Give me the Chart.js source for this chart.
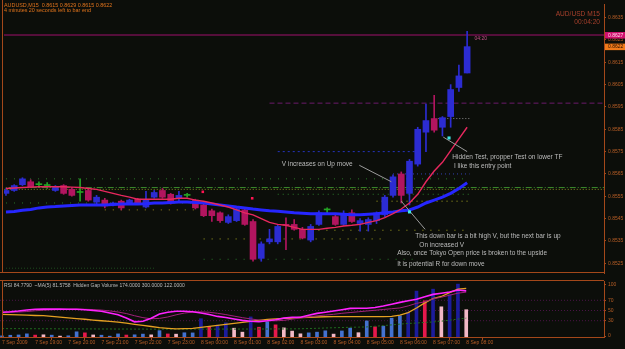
<!DOCTYPE html>
<html>
<head>
<meta charset="utf-8">
<title>AUDUSD M15</title>
<script src="https://cdn.jsdelivr.net/npm/chart.js@4.4.1/dist/chart.umd.min.js"></script>
<style>
  html, body { margin: 0; padding: 0; background: #0c0e0a; }
  #wrap { position: relative; width: 625px; height: 349px; overflow: hidden; background: #0c0e0a; }
  #mainChart { position: absolute; left: 0; top: 0; }
  #subChart { position: absolute; left: 0; top: 277px; }
</style>
</head>
<body>
<div id="wrap">
  <canvas id="mainChart" width="625" height="277"></canvas>
  <canvas id="subChart" width="625" height="72"></canvas>
</div>
<script>
// AUDUSD M15 - price window + RSI / hidden gap volume window

// ---- data ----
const dateTickBars = [0, 4, 8, 12, 16, 20, 24, 28, 32, 36, 40, 44, 48, 52, 56];
const dateLabels = ['7 Sep 2009', '7 Sep 19:00', '7 Sep 20:00', '7 Sep 21:00', '7 Sep 22:00',
  '7 Sep 23:00', '8 Sep 00:00', '8 Sep 01:00', '8 Sep 02:00', '8 Sep 03:00', '8 Sep 04:00',
  '8 Sep 05:00', '8 Sep 06:00', '8 Sep 07:00', '8 Sep 08:00'];
const priceTicks = [0.8525, 0.8535, 0.8545, 0.8555, 0.8565, 0.8575, 0.8585, 0.8595,
  0.8605, 0.8615, 0.8625, 0.8635];
const rsiTicks = [0, 30, 50, 70, 100];
const rsiLevels = [70, 50, 30];

const opens = [0.85563, 0.85576, 0.85602, 0.85615, 0.85602, 0.85598, 0.85576, 0.85598, 0.85581, 0.85567,
  0.85576, 0.85524, 0.85533, 0.85511, 0.85528, 0.85520, 0.85537, 0.85502, 0.85546, 0.85576,
  0.85559, 0.85541, 0.85554, 0.85533, 0.85511, 0.85485, 0.85476, 0.85433, 0.85441, 0.85489,
  0.85437, 0.85272, 0.85346, 0.85346, 0.85424, 0.85424, 0.85402, 0.85354, 0.85424, 0.85489,
  0.85459, 0.85424, 0.85476, 0.85428, 0.85424, 0.85441, 0.85467, 0.85554, 0.85650, 0.85563,
  0.85694, 0.85837, 0.85898, 0.85859, 0.85907, 0.86037, 0.86102];
const highs = [0.85585, 0.85602, 0.85633, 0.85624, 0.85615, 0.85611, 0.85598, 0.85602, 0.85589, 0.85628,
  0.85581, 0.85554, 0.85541, 0.85524, 0.85533, 0.85537, 0.85541, 0.85572, 0.85576, 0.85585,
  0.85563, 0.85572, 0.85563, 0.85537, 0.85520, 0.85493, 0.85480, 0.85467, 0.85502, 0.85498,
  0.85446, 0.85346, 0.85402, 0.85424, 0.85454, 0.85446, 0.85411, 0.85424, 0.85485, 0.85498,
  0.85467, 0.85485, 0.85489, 0.85450, 0.85454, 0.85480, 0.85554, 0.85646, 0.85659, 0.85715,
  0.85859, 0.85963, 0.86002, 0.85907, 0.86050, 0.86137, 0.86289];
const lows = [0.85554, 0.85572, 0.85598, 0.85589, 0.85589, 0.85585, 0.85572, 0.85559, 0.85550, 0.85528,
  0.85528, 0.85515, 0.85498, 0.85507, 0.85489, 0.85515, 0.85515, 0.85498, 0.85541, 0.85541,
  0.85515, 0.85528, 0.85546, 0.85493, 0.85459, 0.85437, 0.85433, 0.85428, 0.85437, 0.85420,
  0.85259, 0.85259, 0.85337, 0.85337, 0.85311, 0.85398, 0.85359, 0.85346, 0.85420, 0.85476,
  0.85420, 0.85420, 0.85433, 0.85394, 0.85394, 0.85428, 0.85459, 0.85546, 0.85520, 0.85511,
  0.85685, 0.85750, 0.85837, 0.85820, 0.85859, 0.86020, 0.86102];
const closes = [0.85576, 0.85598, 0.85628, 0.85593, 0.85602, 0.85598, 0.85589, 0.85563, 0.85554, 0.85567,
  0.85533, 0.85546, 0.85507, 0.85520, 0.85498, 0.85533, 0.85520, 0.85533, 0.85567, 0.85546,
  0.85520, 0.85554, 0.85554, 0.85498, 0.85463, 0.85463, 0.85441, 0.85459, 0.85493, 0.85424,
  0.85268, 0.85337, 0.85359, 0.85415, 0.85420, 0.85402, 0.85363, 0.85415, 0.85476, 0.85489,
  0.85424, 0.85472, 0.85437, 0.85441, 0.85446, 0.85476, 0.85546, 0.85637, 0.85554, 0.85707,
  0.85850, 0.85889, 0.85846, 0.85902, 0.86028, 0.86089, 0.86220];

// moving averages drawn on price
const maFast = [0.85585, 0.85587, 0.85589, 0.85591, 0.85593, 0.85593, 0.85593, 0.85593, 0.85591, 0.85589,
  0.85585, 0.85581, 0.85572, 0.85563, 0.85554, 0.85546, 0.85537, 0.85537, 0.85537, 0.85537,
  0.85537, 0.85541, 0.85541, 0.85533, 0.85528, 0.85520, 0.85511, 0.85502, 0.85489, 0.85476,
  0.85467, 0.85450, 0.85433, 0.85424, 0.85420, 0.85411, 0.85402, 0.85402, 0.85402, 0.85407,
  0.85411, 0.85417, 0.85420, 0.85424, 0.85433, 0.85441, 0.85454, 0.85472, 0.85493, 0.85520,
  0.85559, 0.85615, 0.85663, 0.85702, 0.85754, 0.85807, 0.85859];
const maSlow = [0.85480, 0.85482, 0.85487, 0.85491, 0.85498, 0.85502, 0.85504, 0.85507, 0.85509, 0.85511,
  0.85511, 0.85511, 0.85511, 0.85513, 0.85515, 0.85515, 0.85515, 0.85517, 0.85520, 0.85520,
  0.85522, 0.85524, 0.85524, 0.85522, 0.85520, 0.85515, 0.85511, 0.85507, 0.85502, 0.85498,
  0.85493, 0.85489, 0.85485, 0.85483, 0.85480, 0.85476, 0.85474, 0.85472, 0.85472, 0.85472,
  0.85472, 0.85470, 0.85467, 0.85467, 0.85470, 0.85472, 0.85476, 0.85480, 0.85485, 0.85489,
  0.85502, 0.85520, 0.85533, 0.85546, 0.85563, 0.85585, 0.85611];

// support / resistance levels: price, first bar, last bar
const levelPrices = [0.86272, 0.85967, 0.85750, 0.85898, 0.85650, 0.85628, 0.85589, 0.85581,
  0.85559, 0.85528, 0.85520, 0.85489, 0.85398, 0.85359, 0.85268, 0.85228];
const levelFrom = [-1, 32, 33, 52.5, 47, 0, -1, -1, 33, 45, 0, 12, 36, 24, 24, 0];
const levelTo = [74, 74, 50, 56.3, 56.3, 56.3, 74, 74, 56.3, 56.3, 24, 24, 56.3, 46, 50, 18];

// pointer lines from notes to bars: [bar, price] -> [bar, price]
const pointerStart = [[42.9, 0.85689], [53.1, 0.85815], [48.0, 0.85528]];
const pointerEnd = [[46.8, 0.85615], [56.0, 0.85750], [50.9, 0.85402]];
const testMarks = [[53.8, 0.85811], [49.0, 0.85480]];
const signalMarks = [[23.9, 0.85570], [29.9, 0.85541]];

const noteTexts = ['V increases on Up move', 'Hidden Test, propper Test on lower TF',
  'I like this entry point', 'This down bar is a bit high V, but the next bar is up',
  'On increased V', 'Also, once Tokyo Open price is broken to the upside',
  'It is potential R for down move'];
const noteBars = [33.5, 54.2, 54.4, 49.7, 50.2, 47.5, 47.5];
const notePrices = [0.85694, 0.85724, 0.85685, 0.85372, 0.85333, 0.85294, 0.85246];

// indicator window
const rsiValues = [46.7, 47.6, 49, 51, 52.5, 52.7, 52.9, 52.7, 52.5, 52.4,
  51.6, 50, 48.4, 45, 41.8, 35.3, 27.8, 29, 35, 43,
  46.7, 48.6, 48.6, 47.6, 45, 42, 38.4, 36.3, 33.3, 30.6,
  28.8, 28, 29.8, 32, 35, 36.7, 36.9, 40.6, 44.3, 46.7,
  49, 51.6, 54.1, 54.3, 54.3, 55.9, 58.8, 62.4, 65.9, 69.2,
  72.2, 76.9, 81.6, 83.9, 86.3, 90.2, 88.5];
const rsiMaValues = [46, 46.5, 47, 48, 49.5, 50.5, 51.5, 52, 52.5, 52.6,
  52.4, 51.8, 50.8, 49.2, 47, 44, 39.7, 36, 33.8, 34.5,
  37.3, 41.5, 45, 47, 47.3, 46.5, 44.5, 42, 39, 36,
  33.5, 31.3, 30, 29.8, 30.7, 33, 35.5, 37.5, 39.5, 41,
  42.5, 44.5, 46, 47.5, 49, 50.5, 52, 53.5, 55, 59,
  64, 67, 73, 76, 80, 84, 86];
const gapVolLine = [42.3, 41.8, 41.3, 40.8, 40.2, 39.8, 38.5, 37, 35.6, 34.2,
  32.8, 31.3, 29.9, 28.6, 27.2, 25.2, 23, 20.8, 18.6, 16.3,
  15, 13.8, 14.3, 15.1, 16.8, 18.7, 20.7, 22.9, 24.7, 26.8,
  28.8, 30.8, 32.7, 33.5, 34.4, 35.3, 36.3, 36.8, 37.3, 37.7,
  37.8, 37.8, 37.8, 37.8, 37.8, 37.8, 37.8, 38.5, 41, 46,
  55, 65, 73.5, 77.5, 85, 92, 93.5];
const gapVolSignal = [14.6, 14.4, 14.5, 14.2, 14.3, 14.1, 14.2, 14, 13.9, 14.1,
  13.8, 13.9, 13.7, 13.8, 13.6, 13.7, 13.5, 13.6, 13.4, 13.5,
  13.4, 13.5, 13.3, 13.5, 13.6, 13.4, 13.5, 13.6, 13.5, 13.7,
  13.6, 13.8, 13.7, 13.9, 13.8, 14, 14.2, 14.6, 15.1, 15.7,
  16.2, 16.6, 17.1, 17.4, 17.8, 19, 20.4, 21.8, 23.3, 24.6,
  25.4, 26.6, 27.5, 29.1, 31, 33.2, 35];
const gapVolume = [22, 35, 41, 63, 38, 44, 37, 18, 24, 104,
  83, 41, 36, 17, 62, 39, 44, 58, 43, 127,
  61, 57, 85, 82, 366, 204, 238, 283, 176, 97,
  402, 196, 305, 243, 182, 118, 64, 83, 97, 124,
  58, 121, 178, 86, 322, 203, 218, 376, 424, 497,
  918, 724, 957, 604, 846, 1058, 546];
// b = normal up, n = high up, r = high down, p = low down
const gapVolumeKind = ['b', 'b', 'b', 'b', 'r', 'p', 'b', 'p', 'b', 'b',
  'r', 'p', 'b', 'b', 'b', 'r', 'b', 'b', 'p', 'b',
  'r', 'p', 'b', 'b', 'n', 'r', 'n', 'n', 'p', 'p',
  'n', 'r', 'b', 'r', 'p', 'p', 'p', 'b', 'b', 'b',
  'p', 'b', 'b', 'p', 'b', 'r', 'b', 'b', 'b', 'n',
  'n', 'r', 'n', 'p', 'n', 'n', 'p'];

const headerLine1 = 'AUDUSD,M15  0.8615 0.8629 0.8615 0.8622';
const headerLine2 = '4 minutes 20 seconds left to bar end';
const subHeader = 'RSI 84.7790  ~MA(5) 81.5758  Hidden Gap Volume 174.0000 300.0000 122.0000';

// ---- styles ----
const FONT = '"Liberation Sans", Arial, sans-serif';
const BG = '#0c0e0a';
const AXIS = '#a4481a';
const AXIS_TEXT = '#b85e26';
const UP = '#2c2cd2';
const DOWN = '#b2155f';
const DOJI = '#24a424';
const VOL_COLORS = { b: '#4472d0', n: '#1c1c9c', r: '#e8184c', p: '#f2b8c6' };
const levelStyles = [
  { color: '#a0106c', dash: [] },
  { color: '#6a1a6a', dash: [5, 3] },
  { color: '#2434c0', dash: [2, 3] },
  { color: '#8a8a8a', dash: [1, 2] },
  { color: '#3444b4', dash: [1, 3] },
  { color: '#2a7a2a', dash: [1, 7] },
  { color: '#3c8c2c', dash: [6, 2, 1, 2] },
  { color: '#8c8c22', dash: [1, 2] },
  { color: '#2a7a2a', dash: [1, 4] },
  { color: '#a4a422', dash: [1, 4] },
  { color: '#2a7a2a', dash: [1, 7] },
  { color: '#9c8a22', dash: [1, 7] },
  { color: '#a4a422', dash: [1, 7] },
  { color: '#a4a422', dash: [1, 7] },
  { color: '#2a7a2a', dash: [1, 7] },
  { color: '#1e4e1e', dash: [1, 2] }
];

// x range: bar spacing ~8.29px, bar 0 sits at the left frame
const xMin = -0.24;
const xMax = 72.62;
const priceMin = 0.852065;
const priceMax = 0.864109;

const bars = opens.map((_, i) => i);
const candleColor = i => closes[i] > opens[i] ? UP : (closes[i] < opens[i] ? DOWN : DOJI);
const toPoints = vals => vals.map((v, i) => ({ x: i, y: v }));

// ---- price window ----
const mainDatasets = [];

levelPrices.forEach((p, i) => {
  mainDatasets.push({
    type: 'line',
    data: [{ x: levelFrom[i], y: p }, { x: levelTo[i], y: p }],
    borderColor: levelStyles[i].color,
    borderDash: levelStyles[i].dash,
    borderWidth: 1,
    pointRadius: 0,
    order: 20
  });
});

mainDatasets.push({
  type: 'bar',
  data: bars.map(i => ({ x: i, y: [lows[i], highs[i]] })),
  backgroundColor: bars.map(candleColor),
  barThickness: 1,
  grouped: false,
  order: 12
});
mainDatasets.push({
  type: 'bar',
  data: bars.map(i => ({ x: i, y: [opens[i], closes[i]] })),
  backgroundColor: bars.map(candleColor),
  barThickness: 6,
  minBarLength: 1,
  grouped: false,
  order: 11
});
mainDatasets.push({
  type: 'line', data: toPoints(maSlow), borderColor: '#2626ff', borderWidth: 3,
  pointRadius: 0, order: 6
});
mainDatasets.push({
  type: 'line', data: toPoints(maFast), borderColor: '#e8285e', borderWidth: 1.4,
  pointRadius: 0, order: 5
});
pointerStart.forEach((s, i) => {
  mainDatasets.push({
    type: 'line',
    data: [{ x: s[0], y: s[1] }, { x: pointerEnd[i][0], y: pointerEnd[i][1] }],
    borderColor: '#9a9a9a', borderWidth: 1, pointRadius: 0, order: 3
  });
});
mainDatasets.push({
  type: 'line', data: testMarks.map(m => ({ x: m[0], y: m[1] })), showLine: false,
  pointStyle: 'rect', pointRadius: 2.2, backgroundColor: '#3ee6e6', borderWidth: 0, order: 2
});
mainDatasets.push({
  type: 'line', data: signalMarks.map(m => ({ x: m[0], y: m[1] })), showLine: false,
  pointStyle: 'rect', pointRadius: 1.8, backgroundColor: '#ff1452', borderWidth: 0, order: 2
});

const mainDecor = {
  id: 'mainDecor',
  beforeDraw(chart) {
    const { ctx, width, height } = chart;
    ctx.save();
    ctx.fillStyle = BG;
    ctx.fillRect(0, 0, width, height);
    ctx.restore();
  },
  afterDraw(chart) {
    const { ctx, chartArea: a, scales: { x, y } } = chart;
    ctx.save();

    // frame
    ctx.strokeStyle = AXIS;
    ctx.lineWidth = 1;
    ctx.beginPath();
    ctx.moveTo(2.5, 0);
    ctx.lineTo(2.5, a.bottom);
    ctx.moveTo(0, a.bottom - 0.5);
    ctx.lineTo(a.right, a.bottom - 0.5);
    ctx.stroke();

    // header
    ctx.fillStyle = '#e0731c';
    ctx.font = '5.4px ' + FONT;
    ctx.textBaseline = 'middle';
    ctx.textAlign = 'left';
    ctx.fillText(headerLine1, 4, 5.5);
    ctx.fillText(headerLine2, 4, 10.2);

    ctx.fillStyle = '#a8402c';
    ctx.font = '6.6px ' + FONT;
    ctx.textAlign = 'right';
    ctx.fillText('AUD/USD M15', 600, 14.5);
    ctx.fillText('00:04:20', 600, 22);

    // notes
    ctx.fillStyle = '#bcbcbc';
    ctx.font = '6.5px ' + FONT;
    ctx.textAlign = 'left';
    noteTexts.forEach((t, i) => {
      ctx.fillText(t, x.getPixelForValue(noteBars[i]), y.getPixelForValue(notePrices[i]));
    });

    // level time tag
    const lvY = y.getPixelForValue(levelPrices[0]);
    ctx.fillStyle = '#c8508a';
    ctx.font = '5px ' + FONT;
    ctx.fillText('04:20', x.getPixelForValue(56.9), lvY + 3.5);

    // price tags on the axis
    const tag = (price, bg, fg) => {
      const py = y.getPixelForValue(price);
      ctx.fillStyle = bg;
      ctx.fillRect(a.right + 1, py - 3, 625 - a.right - 1, 6.5);
      ctx.fillStyle = fg;
      ctx.font = '5px ' + FONT;
      ctx.textAlign = 'left';
      ctx.fillText(price.toFixed(4), a.right + 4, py + 0.3);
    };
    tag(levelPrices[0], '#d0106e', '#ffd8e8');
    tag(closes[closes.length - 1], '#f07a1a', '#2a1000');

    ctx.restore();
  }
};

new Chart(document.getElementById('mainChart'), {
  type: 'bar',
  data: { datasets: mainDatasets },
  options: {
    responsive: false,
    animation: false,
    events: [],
    devicePixelRatio: 1,
    layout: { padding: 0 },
    plugins: { legend: { display: false }, tooltip: { enabled: false } },
    scales: {
      x: { type: 'linear', display: false, min: xMin, max: xMax, offset: false },
      y: {
        type: 'linear',
        position: 'right',
        min: priceMin,
        max: priceMax,
        bounds: 'data',
        afterBuildTicks: s => { s.ticks = priceTicks.map(v => ({ value: v })); },
        afterFit: s => { s.width = 21; s.paddingTop = 0; s.paddingBottom = 0; },
        ticks: {
          callback: v => v.toFixed(4),
          color: AXIS_TEXT,
          font: { family: FONT, size: 5 },
          padding: 2,
          autoSkip: false
        },
        grid: { drawOnChartArea: false, tickLength: 2, color: AXIS },
        border: { color: AXIS }
      }
    }
  },
  plugins: [mainDecor]
});

// ---- indicator window ----
const subDatasets = [];
rsiLevels.forEach(lv => {
  subDatasets.push({
    type: 'line', data: [{ x: xMin, y: lv }, { x: xMax, y: lv }], borderColor: '#4a1446',
    borderDash: [1, 2], borderWidth: 1, pointRadius: 0, order: 20
  });
});
subDatasets.push({
  type: 'bar',
  data: bars.map(i => ({ x: i, y: gapVolume[i] })),
  backgroundColor: gapVolumeKind.map(k => VOL_COLORS[k]),
  barThickness: 3,
  grouped: false,
  yAxisID: 'yv',
  order: 10
});
subDatasets.push({
  type: 'line', data: toPoints(gapVolSignal), borderColor: '#1f6a1f', borderWidth: 1,
  borderDash: [2, 2], pointRadius: 0, order: 6
});
subDatasets.push({
  type: 'line', data: toPoints(gapVolLine), borderColor: '#e4a022', borderWidth: 1.3,
  pointRadius: 0, order: 5
});
subDatasets.push({
  type: 'line', data: toPoints(rsiMaValues), borderColor: '#a0207a', borderWidth: 1,
  pointRadius: 0, order: 4
});
subDatasets.push({
  type: 'line', data: toPoints(rsiValues), borderColor: '#ff22ff', borderWidth: 1.6,
  pointRadius: 0, order: 3
});

const subDecor = {
  id: 'subDecor',
  beforeDraw(chart) {
    const { ctx, width, height } = chart;
    ctx.save();
    ctx.fillStyle = BG;
    ctx.fillRect(0, 0, width, height);
    ctx.restore();
  },
  afterDraw(chart) {
    const { ctx, chartArea: a } = chart;
    ctx.save();
    ctx.strokeStyle = AXIS;
    ctx.lineWidth = 1;
    ctx.beginPath();
    ctx.moveTo(0, a.top - 0.5);
    ctx.lineTo(a.right, a.top - 0.5);
    ctx.moveTo(2.5, a.top);
    ctx.lineTo(2.5, a.bottom);
    ctx.stroke();
    ctx.fillStyle = '#bcbcbc';
    ctx.font = '5px ' + FONT;
    ctx.textBaseline = 'middle';
    ctx.fillText(subHeader, 4, a.top + 4.5);
    ctx.restore();
  }
};

new Chart(document.getElementById('subChart'), {
  type: 'bar',
  data: { datasets: subDatasets },
  options: {
    responsive: false,
    animation: false,
    events: [],
    devicePixelRatio: 1,
    layout: { padding: { top: 4 } },
    plugins: { legend: { display: false }, tooltip: { enabled: false } },
    scales: {
      x: {
        type: 'linear',
        position: 'bottom',
        min: xMin,
        max: xMax,
        offset: false,
        afterBuildTicks: s => { s.ticks = dateTickBars.map(v => ({ value: v })); },
        afterFit: s => { s.height = 12; s.paddingLeft = 0; s.paddingRight = 0; },
        ticks: {
          callback: (v, i) => dateLabels[i],
          color: AXIS_TEXT,
          font: { family: FONT, size: 5 },
          autoSkip: false,
          maxRotation: 0,
          minRotation: 0,
          align: 'start',
          padding: 0
        },
        grid: { drawOnChartArea: false, tickLength: 3, color: AXIS },
        border: { color: AXIS }
      },
      y: {
        type: 'linear',
        position: 'right',
        min: -1.96,
        max: 107.84,
        bounds: 'data',
        afterBuildTicks: s => { s.ticks = rsiTicks.map(v => ({ value: v })); },
        afterFit: s => { s.width = 21; s.paddingTop = 0; s.paddingBottom = 0; },
        ticks: { color: AXIS_TEXT, font: { family: FONT, size: 5 }, padding: 2, autoSkip: false },
        grid: { drawOnChartArea: false, tickLength: 2, color: AXIS },
        border: { color: AXIS }
      },
      yv: { type: 'linear', display: false, min: 0, max: 1120 }
    }
  },
  plugins: [subDecor]
});
</script>
</body>
</html>
